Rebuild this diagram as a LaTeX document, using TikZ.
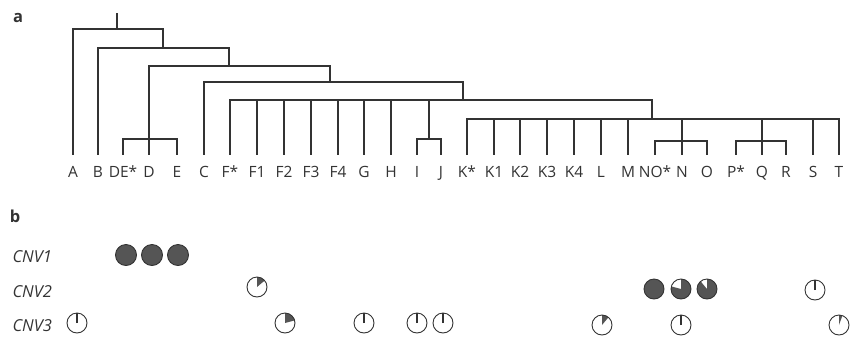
\documentclass[tikz,border=0pt]{standalone}
\usepackage{fontspec}
\setsansfont{Open Sans}
\usepackage{tikz}
\definecolor{ink}{HTML}{333333}
\definecolor{pie}{HTML}{555555}
% one CNV state circle: x, y, dark share (deg, clockwise from top), radius
\newcommand{\cnvpie}[4]{%
  \fill[pie] (#1,#2) -- ++(-90:#4) arc[start angle=-90, end angle=-90+#3, radius=#4] -- cycle;
  \draw[ink, line width=0.9pt] (#1,#2) circle[radius=#4];}
\newcommand{\cnvtick}[2]{%
  \draw[ink, line width=0.9pt] (#1,#2) circle[radius=10];
  \draw[ink, line width=1.1pt] (#1,#2) -- ++(-90:10);}

\begin{document}
\begin{tikzpicture}[x=1pt, y=-1pt,
  branch/.style={ink, line width=1.6pt},
  leaf/.style={font=\fontsize{15.5}{18}\selectfont\sffamily, text=ink, anchor=base},
  rowlab/.style={font=\fontsize{16.5}{19}\selectfont\sffamily\itshape, text=ink, anchor=base west},
  panel/.style={font=\fontsize{16.5}{19}\selectfont\sffamily\bfseries, text=ink, anchor=base}]
  \useasboundingbox (0,0) rectangle (851,338);
  \node[panel] (pa) at (18,22) {a};
  \node[panel] (pb) at (15,222) {b};
  % leaves of the tree
  \foreach \name/\lab/\x in {A/A/73, B/B/98, DEs/DE*/123, D/D/149, E/E/177, C/C/204,
      Fs/F*/230, F1/F1/257, F2/F2/284, F3/F3/311, F4/F4/338, G/G/364, H/H/391,
      I/I/417, J/J/441, Ks/K*/467, K1/K1/494, K2/K2/520, K3/K3/547, K4/K4/574,
      L/L/601, M/M/628, NOs/NO*/655, N/N/682, O/O/707, Ps/P*/736, Q/Q/762,
      R/R/786, S/S/813, T/T/839}{
    \node[leaf] (\name) at (\x,177) {\lab};
    \coordinate (top\name) at (\x,155);}
  % inner branch points
  \coordinate (root) at (117,13);
  \coordinate (n1) at (117,29);
  \coordinate (n2) at (163,48);
  \coordinate (n3) at (229,66);
  \coordinate (nde) at (149,139);
  \coordinate (n4) at (330,82);
  \coordinate (n5) at (463,100);
  \coordinate (nij) at (429,139);
  \coordinate (n6) at (652,119);
  \coordinate (nno) at (682,141);
  \coordinate (npq) at (762,141);
  \draw[branch] (root) -- (n1);
  \foreach \p/\c in {n1/topA, n1/n2, n2/topB, n2/n3, n3/nde, n3/n4,
      nde/topDEs, nde/topD, nde/topE, n4/topC, n4/n5,
      n5/topFs, n5/topF1, n5/topF2, n5/topF3, n5/topF4, n5/topG, n5/topH, n5/nij, n5/n6,
      nij/topI, nij/topJ,
      n6/topKs, n6/topK1, n6/topK2, n6/topK3, n6/topK4, n6/topL, n6/topM,
      n6/nno, n6/npq, n6/topS, n6/topT,
      nno/topNOs, nno/topN, nno/topO, npq/topPs, npq/topQ, npq/topR}
    \draw[branch] (\p) -| (\c);
  % panel b
  \node[rowlab] (cnv1) at (9,262) {CNV1};
  \node[rowlab] (cnv2) at (9,297) {CNV2};
  \node[rowlab] (cnv3) at (9,331) {CNV3};
  \foreach \x in {126,152,178} {\cnvpie{\x}{255}{360}{10.5}}
  \foreach \x/\y/\a in {257/287/50, 654/289/360, 681/289/285, 707/289/320,
      285/323/75, 602/325/40, 839/325/20} {\cnvpie{\x}{\y}{\a}{10}}
  \foreach \x/\y in {815/290, 77/323, 364/323, 417/323, 443/323, 681/325} {\cnvtick{\x}{\y}}
\end{tikzpicture}
\end{document}
